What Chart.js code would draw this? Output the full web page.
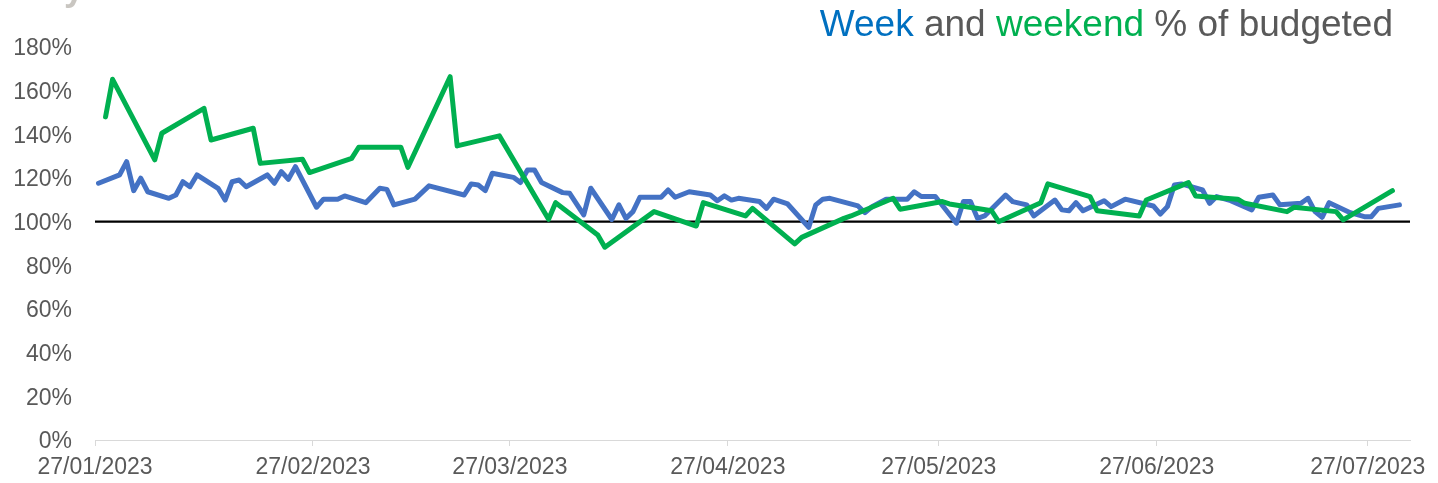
<!DOCTYPE html>
<html>
<head>
<meta charset="utf-8">
<script src="https://cdn.jsdelivr.net/npm/chart.js@4.4.0/dist/chart.umd.min.js"></script>
<style>
  html, body { margin: 0; padding: 0; background: #fff; }
</style>
</head>
<body>
<canvas id="chart" width="1438" height="483"></canvas>
<script>
// axis range and tick labels
const startDate = '2023-01-27';
const endDate = '2023-08-01';
const tickDates = ['2023-01-27', '2023-02-27', '2023-03-27', '2023-04-27', '2023-05-27', '2023-06-27', '2023-07-27'];
const target = 100;

// weekday % of budget
const weekDates = [
  '2023-01-27', '2023-01-30', '2023-01-31', '2023-02-01', '2023-02-02', '2023-02-03',
  '2023-02-06', '2023-02-07', '2023-02-08', '2023-02-09', '2023-02-10',
  '2023-02-13', '2023-02-14', '2023-02-15', '2023-02-16', '2023-02-17',
  '2023-02-20', '2023-02-21', '2023-02-22', '2023-02-23', '2023-02-24',
  '2023-02-27', '2023-02-28', '2023-03-02', '2023-03-03',
  '2023-03-06', '2023-03-08', '2023-03-09', '2023-03-10',
  '2023-03-13', '2023-03-15',
  '2023-03-20', '2023-03-21', '2023-03-22', '2023-03-23', '2023-03-24',
  '2023-03-27', '2023-03-28', '2023-03-29', '2023-03-30', '2023-03-31',
  '2023-04-03', '2023-04-04', '2023-04-06', '2023-04-07',
  '2023-04-10', '2023-04-11', '2023-04-12', '2023-04-13', '2023-04-14',
  '2023-04-17', '2023-04-18', '2023-04-19', '2023-04-21',
  '2023-04-24', '2023-04-25', '2023-04-26', '2023-04-27', '2023-04-28',
  '2023-05-01', '2023-05-02', '2023-05-03', '2023-05-05',
  '2023-05-08', '2023-05-09', '2023-05-10', '2023-05-11',
  '2023-05-15', '2023-05-16', '2023-05-17', '2023-05-19',
  '2023-05-22', '2023-05-23', '2023-05-24', '2023-05-26',
  '2023-05-29', '2023-05-30', '2023-05-31', '2023-06-01', '2023-06-02',
  '2023-06-05', '2023-06-06', '2023-06-08', '2023-06-09',
  '2023-06-12', '2023-06-13', '2023-06-14', '2023-06-15', '2023-06-16',
  '2023-06-19', '2023-06-20', '2023-06-22',
  '2023-06-26', '2023-06-27', '2023-06-28', '2023-06-29', '2023-06-30',
  '2023-07-03', '2023-07-04', '2023-07-05', '2023-07-07',
  '2023-07-10', '2023-07-11', '2023-07-13', '2023-07-14',
  '2023-07-17', '2023-07-18', '2023-07-19', '2023-07-20', '2023-07-21',
  '2023-07-24', '2023-07-26', '2023-07-27', '2023-07-28',
  '2023-07-31'
];
const weekValues = [
  117.6, 121.4, 127.5, 114.2, 119.9, 113.7,
  110.7, 112.2, 118.3, 116.0, 121.4,
  115.3, 109.9, 118.3, 119.1, 116.0,
  121.4, 117.6, 122.9, 119.4, 125.2,
  106.6, 110.3, 110.3, 111.8,
  108.7, 115.3, 114.8, 107.7,
  110.3, 116.4,
  112.2, 117.3, 116.8, 114.2, 122.2,
  120.3, 117.9, 123.7, 123.7, 117.9,
  113.3, 113.0, 103.1, 115.3,
  101.0, 107.7, 101.5, 104.6, 111.2,
  111.2, 114.5, 111.2, 113.7,
  112.2, 109.6, 111.8, 109.9, 110.7,
  109.2, 106.1, 110.3, 108.1,
  97.4, 107.7, 110.3, 110.7,
  107.2, 104.1, 106.9, 110.3,
  110.3, 113.7, 111.5, 111.5,
  99.3, 109.2, 109.2, 101.5, 102.6,
  112.2, 109.2, 107.7, 102.6,
  109.9, 105.4, 105.0, 108.7, 105.0,
  109.6, 106.9, 110.3,
  107.2, 103.5, 106.9, 116.8, 117.3,
  114.5, 108.4, 111.5, 109.6,
  105.4, 111.2, 112.2, 107.7,
  108.4, 110.7, 104.6, 102.0, 108.7,
  104.1, 102.3, 102.3, 106.1,
  107.7
];

// weekend % of budget
const weekendDates = [
  '2023-01-28', '2023-01-29', '2023-02-04', '2023-02-05', '2023-02-11', '2023-02-12',
  '2023-02-18', '2023-02-19', '2023-02-25', '2023-02-26', '2023-03-04', '2023-03-05',
  '2023-03-11', '2023-03-12', '2023-03-18', '2023-03-19', '2023-03-25',
  '2023-04-01', '2023-04-02', '2023-04-08', '2023-04-09', '2023-04-16',
  '2023-04-22', '2023-04-23', '2023-04-29', '2023-04-30', '2023-05-06', '2023-05-07',
  '2023-05-13', '2023-05-14', '2023-05-20', '2023-05-21', '2023-05-27', '2023-05-28',
  '2023-06-03', '2023-06-04', '2023-06-10', '2023-06-11', '2023-06-17', '2023-06-18',
  '2023-06-24', '2023-06-25', '2023-07-01', '2023-07-02', '2023-07-08', '2023-07-09',
  '2023-07-15', '2023-07-16', '2023-07-22', '2023-07-23', '2023-07-30'
];
const weekendValues = [
  148.0, 165.2, 128.3, 140.5, 151.9, 137.4,
  142.8, 126.7, 128.6, 122.5, 129.0, 134.1,
  134.1, 124.9, 166.4, 134.7, 139.3,
  101.1, 108.7, 93.9, 88.3, 104.6,
  98.0, 108.7, 102.6, 106.1, 89.8, 92.8,
  101.5, 102.6, 110.7, 105.7, 109.2, 108.1,
  105.0, 100.0, 108.7, 117.3, 111.5, 105.0,
  102.6, 109.9, 117.9, 111.8, 110.3, 108.4,
  104.6, 106.6, 104.6, 100.8, 114.2
];

const dayMs = 86400000;
const dayOf = s => Math.round((Date.parse(s) - Date.parse(startDate)) / dayMs);
const toPoints = (dates, vals) => dates.map((d, i) => ({ x: dayOf(d), y: vals[i] }));
const fmtDate = s => s.split('-').reverse().join('/');

// ticks sit on the left edge of a day, points in the middle (like Excel's date axis)
const tickLabels = {};
tickDates.forEach(d => { tickLabels[dayOf(d) - 0.5] = fmtDate(d); });

const font = { family: "'Liberation Sans', Arial, sans-serif", size: 23 };
const grey = '#595959';

// 100% line and the coloured title
const extras = {
  id: 'extras',
  beforeDatasetsDraw(chart) {
    const { ctx, chartArea, scales } = chart;
    const y = scales.y.getPixelForValue(target);
    ctx.save();
    ctx.strokeStyle = '#000';
    ctx.lineWidth = 2.2;
    ctx.beginPath();
    ctx.moveTo(chartArea.left, y);
    ctx.lineTo(chartArea.right, y);
    ctx.stroke();
    ctx.restore();
  },
  afterDraw(chart) {
    const ctx = chart.ctx;
    ctx.save();
    ctx.font = "37px 'Liberation Sans', Arial, sans-serif";
    ctx.textBaseline = 'alphabetic';
    const parts = [['Week', '#0070C0'], [' and ', grey], ['weekend', '#00B050'], [' % of budgeted', grey]];
    const total = parts.reduce((w, p) => w + ctx.measureText(p[0]).width, 0);
    let x = 1393 - total;
    parts.forEach(([t, c]) => {
      ctx.fillStyle = c;
      ctx.fillText(t, x, 36);
      x += ctx.measureText(t).width;
    });
    // bottom of a title that is cut off at the top
    ctx.font = "bold 36px 'Liberation Sans', Arial, sans-serif";
    ctx.fillStyle = '#c9c6c1';
    ctx.fillText('y', 64, 0);
    ctx.restore();
  }
};

new Chart(document.getElementById('chart'), {
  type: 'line',
  data: {
    datasets: [
      {
        label: 'Week',
        data: toPoints(weekDates, weekValues),
        borderColor: '#4472C4',
        borderWidth: 5,
        pointRadius: 0,
        borderJoinStyle: 'round',
        borderCapStyle: 'round',
        order: 1
      },
      {
        label: 'Weekend',
        data: toPoints(weekendDates, weekendValues),
        borderColor: '#00B050',
        borderWidth: 5,
        pointRadius: 0,
        borderJoinStyle: 'round',
        borderCapStyle: 'round',
        order: 0
      }
    ]
  },
  options: {
    responsive: false,
    animation: false,
    devicePixelRatio: 1,
    layout: { padding: { top: 47, right: 28, left: 0, bottom: 0 } },
    plugins: { legend: { display: false }, tooltip: { enabled: false } },
    scales: {
      x: {
        type: 'linear',
        min: -0.5,
        max: dayOf(endDate) + 0.5,
        afterBuildTicks: s => { s.ticks = tickDates.map(d => ({ value: dayOf(d) - 0.5 })); },
        afterFit: s => { s.height = 43; },
        ticks: {
          autoSkip: false,
          maxRotation: 0,
          color: grey,
          font,
          padding: 8,
          callback: v => tickLabels[v] || ''
        },
        grid: { drawOnChartArea: false, drawTicks: true, tickLength: 6, color: '#d9d9d9' },
        border: { color: '#d9d9d9', width: 1 }
      },
      y: {
        min: 0,
        max: 180,
        afterFit: s => { s.width = 95; },
        ticks: { stepSize: 20, color: grey, font, padding: 23, labelOffset: 2, callback: v => v + '%' },
        grid: { display: false, drawTicks: false },
        border: { display: false }
      }
    }
  },
  plugins: [extras]
});
</script>
</body>
</html>
